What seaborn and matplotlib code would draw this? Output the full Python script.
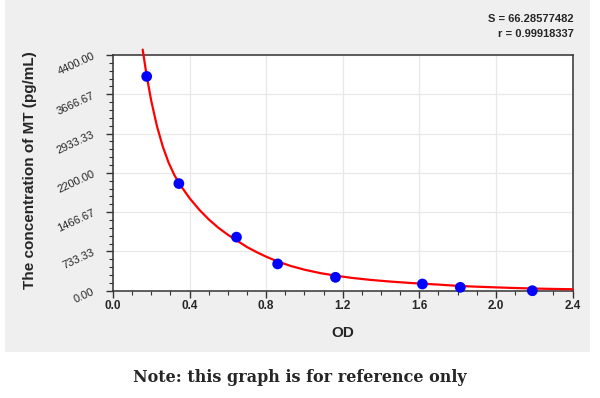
import numpy as np
import pandas as pd
import matplotlib
matplotlib.use("Agg")
import matplotlib.pyplot as plt
import seaborn as sns

# Стандарты: OD и концентрация
od_points = [0.176, 0.344, 0.645, 0.860, 1.162, 1.616, 1.814, 2.190]
conc_points = [4000, 2000, 1000, 500, 250, 125, 62.5, 0]

# Кривая аппроксимации
curve_od = [0.155, 0.176, 0.20, 0.23, 0.26, 0.29, 0.32, 0.346, 0.40, 0.45, 0.50,
            0.55, 0.60, 0.645, 0.70, 0.75, 0.80, 0.86, 0.93, 1.00, 1.08, 1.16,
            1.25, 1.35, 1.45, 1.55, 1.62, 1.70, 1.81, 1.90, 2.00, 2.10, 2.20,
            2.30, 2.40]
curve_conc = [4500, 4010, 3540, 3066, 2691, 2395, 2162, 2000, 1727, 1514, 1331,
              1176, 1044, 941, 815, 720, 635, 545, 460, 392, 330, 282,
              238, 200, 170, 145, 130, 114, 88, 75, 62, 50, 40,
              33, 27]

x_ticks = [0.0, 0.4, 0.8, 1.2, 1.6, 2.0, 2.4]
x_tick_labels = ["0.0", "0.4", "0.8", "1.2", "1.6", "2.0", "2.4"]
y_ticks = [0, 733.33, 1466.67, 2200.00, 2933.33, 3666.67, 4400.00]
y_tick_labels = ["0.00", "733.33", "1466.67", "2200.00", "2933.33", "3666.67", "4400.00"]

stats_s = "S = 66.28577482"
stats_r = "r = 0.99918337"
note = "Note: this graph is for reference only"

sns.set_style("white")
plt.rcParams['font.family'] = ['Liberation Sans', 'DejaVu Sans']
narrow = ['Liberation Sans Narrow', 'Liberation Sans']

pts = pd.DataFrame({"OD": od_points, "conc": conc_points})
crv = pd.DataFrame({"OD": curve_od, "conc": curve_conc})

fig = plt.figure(figsize=(6, 3.98), dpi=100)
fig.patch.set_facecolor("white")
# серая подложка
bg = plt.Rectangle((5 / 600, 1 - 352 / 398), 585 / 600, 352 / 398,
                   transform=fig.transFigure, facecolor="#efefef",
                   edgecolor="none", zorder=-5)
fig.patches.append(bg)

ax = fig.add_axes([113 / 600, 1 - 290.7 / 398, 459.5 / 600, 235.7 / 398])
ax.set_facecolor("white")

ax.set_xlim(0, 2.4)
ax.set_ylim(0, 4400)
ax.set_xticks(x_ticks)
ax.set_xticklabels(x_tick_labels, fontsize=8.5, fontweight="bold")
ax.set_yticks(y_ticks)
ax.set_yticklabels(y_tick_labels, fontsize=8, rotation=25, family=narrow)
ax.set_xticks(np.arange(0, 2.41, 0.1), minor=True)
ax.set_yticks(np.linspace(0, 4400, 31), minor=True)
ax.tick_params(which="major", direction="out", length=5, width=1, color="#333333")
ax.tick_params(which="minor", direction="out", length=3, width=0.8, color="#333333")
ax.tick_params(axis="x", bottom=True, which="both", pad=2)
ax.tick_params(axis="y", left=True, which="both", pad=7)
ax.grid(True, which="major", color="#e8e8e8", linewidth=0.9)
ax.set_axisbelow(True)
for sp in ax.spines.values():
    sp.set_color("#333333")
    sp.set_linewidth(1.1)

sns.lineplot(data=crv, x="OD", y="conc", ax=ax, color="#ff0000", linewidth=1.6,
             sort=True, clip_on=False, zorder=3)
sns.scatterplot(data=pts, x="OD", y="conc", ax=ax, color="#0000ff", s=60,
                edgecolor="none", zorder=4, clip_on=False)

ax.set_xlabel("OD", fontsize=11, fontweight="bold")
ax.set_ylabel("The concentration of MT (pg/mL)", fontsize=11, fontweight="bold")
ax.xaxis.set_label_coords(0.5, -0.15)
ax.yaxis.set_label_coords(-0.165, 0.51)

fig.text(574 / 600, 1 - 19 / 398, stats_s, ha="right", va="center", fontsize=8,
         fontweight="bold", family=narrow)
fig.text(574 / 600, 1 - 34 / 398, stats_r, ha="right", va="center", fontsize=8,
         fontweight="bold", family=narrow)

fig.text(0.5, 1 - 378 / 398, note, ha="center", va="center", fontsize=11.5,
         fontweight="bold", family=["DejaVu Serif"])

fig.savefig("out.png", dpi=100)
